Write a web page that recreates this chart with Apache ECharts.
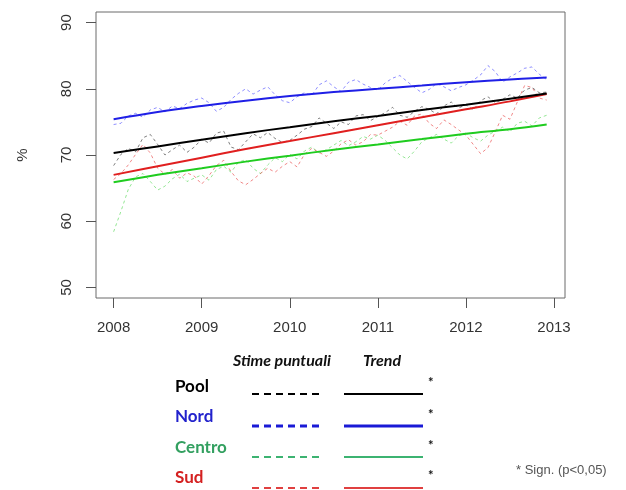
<!DOCTYPE html>
<html>
<head>
<meta charset="utf-8">
<script src="https://cdn.jsdelivr.net/npm/echarts@6/dist/echarts.min.js"></script>
<style>
html,body{margin:0;padding:0;background:#fff;}
#c{width:626px;height:490px;}
</style>
</head>
<body>
<div id="c"></div>
<script>
// ---- data ----
var startYear = 2008; // monthly estimates, Jan 2008 .. Dec 2012
var xTicks = [2008, 2009, 2010, 2011, 2012, 2013];
var yTicks = [50, 60, 70, 80, 90];

var poolMonthly = [
  68.4, 70.1, 71.0, 70.5, 72.6, 73.1, 71.6, 70.0, 70.8, 71.5, 70.4, 71.2,
  72.4, 71.8, 73.3, 73.6, 71.2, 70.8, 72.0, 73.2, 72.6, 73.4, 72.5, 71.9,
  72.2, 73.0, 73.9, 74.3, 75.6, 74.8, 74.0, 75.0, 74.6, 75.9, 76.1, 75.2,
  75.8, 76.4, 77.2, 76.0, 75.7, 76.6, 77.3, 76.9, 76.2, 77.4, 78.0, 77.1,
  77.6, 76.8, 78.2, 78.8, 77.9, 78.4, 79.1, 78.6, 79.8, 80.2, 79.4, 79.5
];
var nordMonthly = [
  74.6, 74.8, 75.9, 76.3, 75.7, 76.8, 77.2, 76.5, 77.4, 77.0, 77.8, 78.3,
  78.6, 77.9, 76.6, 77.2, 78.4, 79.3, 80.0, 79.2, 79.8, 80.3, 79.1, 78.2,
  77.9, 78.8, 79.4, 79.0, 80.6, 81.2, 80.3, 79.6, 81.0, 81.4, 80.7, 80.2,
  79.8, 80.9, 81.6, 82.0, 81.1, 80.2, 79.4, 79.9, 80.8, 80.3, 79.7, 80.2,
  80.6, 81.3, 82.1, 83.5, 82.6, 81.0, 81.8, 82.4, 83.1, 83.3, 82.2, 81.4
];
var centroMonthly = [
  58.4, 61.5, 64.8, 66.7, 67.2, 66.0, 64.7, 65.3, 66.4, 67.1, 66.0, 66.5,
  67.0, 66.2, 67.8, 68.3, 67.4, 68.9, 69.3, 68.0, 67.2, 68.5, 69.6, 69.0,
  70.1, 69.4, 70.6, 71.2, 70.3, 70.8, 71.5, 72.2, 71.4, 72.0, 72.8, 72.4,
  73.0, 72.2, 71.1, 70.0, 69.4, 70.6, 72.0, 72.6, 73.1, 72.4, 71.8, 72.9,
  73.3, 72.6, 72.1, 73.0, 73.6, 74.2, 73.5, 74.8, 75.1, 74.4, 75.6, 76.0
];
var sudMonthly = [
  66.3, 67.2, 68.5, 70.1, 71.6, 70.3, 68.0, 67.1, 67.8, 66.5, 67.3, 66.8,
  65.6, 66.9, 68.4, 69.2, 67.5, 66.1, 65.5, 66.3, 67.2, 68.0, 67.4, 68.3,
  69.0, 68.2, 70.1, 71.0, 70.4, 69.8, 70.6, 71.7, 72.3, 71.5, 72.0, 73.1,
  73.0, 73.6, 74.2, 75.1, 74.5, 75.9, 76.2, 74.8, 74.0, 75.3, 74.6, 73.8,
  73.0, 71.6, 70.2, 71.1, 73.5, 76.0, 75.4, 78.0, 80.5, 80.2, 78.6, 78.3
];

var trendX      = [2008, 2008.5, 2009, 2009.5, 2010, 2010.5, 2011, 2011.5, 2012, 2012.5, 2012.917];
var poolTrend   = [70.3, 71.3, 72.3, 73.3, 74.2, 75.1, 75.9, 76.8, 77.6, 78.5, 79.3];
var nordTrend   = [75.4, 76.5, 77.4, 78.2, 78.9, 79.5, 80.0, 80.5, 81.0, 81.4, 81.7];
var centroTrend = [65.9, 67.0, 68.0, 69.0, 69.9, 70.8, 71.6, 72.4, 73.2, 73.9, 74.6];
var sudTrend    = [67.0, 68.3, 69.6, 70.9, 72.1, 73.3, 74.5, 75.7, 76.9, 78.1, 79.2];

var groups = ['Pool', 'Nord', 'Centro', 'Sud'];

// ---- styles ----
var trendColors = {Pool: '#000000', Nord: '#1f1fe6', Centro: '#1fcc1f', Sud: '#e01f1f'};
var dashColors  = {Pool: 'rgba(0,0,0,0.5)', Nord: 'rgba(50,50,255,0.55)', Centro: 'rgba(20,200,20,0.45)', Sud: 'rgba(225,20,20,0.5)'};
var legendText  = {Pool: '#000000', Nord: '#2222cc', Centro: '#33a060', Sud: '#d42020'};
var legendLine  = {Pool: '#000000', Nord: '#1a1ad6', Centro: '#3cb371', Sud: '#e04040'};

function monthly(arr) {
  return arr.map(function (v, i) { return [startYear + i / 12, v]; });
}
function trend(arr) {
  return arr.map(function (v, i) { return [trendX[i], v]; });
}

var monthlyData = {Pool: poolMonthly, Nord: nordMonthly, Centro: centroMonthly, Sud: sudMonthly};
var trendData = {Pool: poolTrend, Nord: nordTrend, Centro: centroTrend, Sud: sudTrend};

var series = [];
['Centro', 'Sud', 'Pool', 'Nord'].forEach(function (g) {
  series.push({
    type: 'line', name: g + ' stime', data: monthly(monthlyData[g]),
    showSymbol: false, silent: true,
    lineStyle: {color: dashColors[g], width: 1, type: [3, 3]}
  });
});
['Centro', 'Sud', 'Pool', 'Nord'].forEach(function (g) {
  series.push({
    type: 'line', name: g + ' trend', data: trend(trendData[g]),
    showSymbol: false, silent: true, smooth: 0.4,
    lineStyle: {color: trendColors[g], width: 2}
  });
});

// legend table built with graphic elements
var graphics = [];
var legFont = 'Lato, "Open Sans", sans-serif';
graphics.push({type: 'text', left: 233, top: 353, style: {text: 'Stime puntuali', font: 'italic bold 16px ' + legFont, fill: '#111'}});
graphics.push({type: 'text', left: 363, top: 353, style: {text: 'Trend', font: 'italic bold 16px ' + legFont, fill: '#111'}});
var rowY = [388, 418, 449, 479];
var lineY = [394, 426, 457, 488];
var starY = [382, 414, 445, 475];
groups.forEach(function (g, i) {
  graphics.push({type: 'text', left: 175, top: rowY[i] - 10, style: {text: g, font: 'bold 17px ' + legFont, fill: legendText[g]}});
  var w = (g === 'Nord') ? 3 : 2;
  graphics.push({type: 'line', shape: {x1: 252, y1: lineY[i], x2: 320, y2: lineY[i]},
    style: {stroke: legendLine[g], lineWidth: w, lineDash: [7, 5]}});
  graphics.push({type: 'line', shape: {x1: 344, y1: lineY[i], x2: 423, y2: lineY[i]},
    style: {stroke: legendLine[g], lineWidth: w}});
  graphics.push({type: 'text', left: 428, top: starY[i] - 6, style: {text: '*', font: 'bold 13px ' + legFont, fill: '#111'}});
});
graphics.push({type: 'text', left: 516, top: 464, style: {text: '* Sign. (p<0,05)', font: '13px "Liberation Sans", Arial, sans-serif', fill: '#555'}});

var chart = echarts.init(document.getElementById('c'), null, {renderer: 'canvas'});
chart.setOption({
  animation: false,
  backgroundColor: '#ffffff',
  grid: {left: 96, top: 12, right: 61, bottom: 192, show: true, borderColor: '#6a6a6a', borderWidth: 1, backgroundColor: 'transparent'},
  xAxis: {
    type: 'value', min: 2007.8, max: 2013.125,
    axisLine: {show: false},
    splitLine: {show: false},
    axisTick: {show: true, length: 10, customValues: xTicks, lineStyle: {color: '#555'}},
    axisLabel: {customValues: xTicks, margin: 22, fontSize: 15, color: '#333',
      fontFamily: '"Liberation Sans", Arial, sans-serif', formatter: function (v) { return String(v); }}
  },
  yAxis: {
    type: 'value', min: 48.4, max: 91.6,
    name: '%', nameLocation: 'middle', nameRotate: 90, nameGap: 66,
    nameTextStyle: {fontSize: 15, color: '#333', fontFamily: '"Liberation Sans", Arial, sans-serif'},
    axisLine: {show: false},
    splitLine: {show: false},
    axisTick: {show: true, length: 10, customValues: yTicks, lineStyle: {color: '#555'}},
    axisLabel: {customValues: yTicks, rotate: 90, margin: 22, fontSize: 15, color: '#333',
      fontFamily: '"Liberation Sans", Arial, sans-serif', formatter: function (v) { return String(v); }}
  },
  series: series,
  graphic: graphics
});
</script>
</body>
</html>
